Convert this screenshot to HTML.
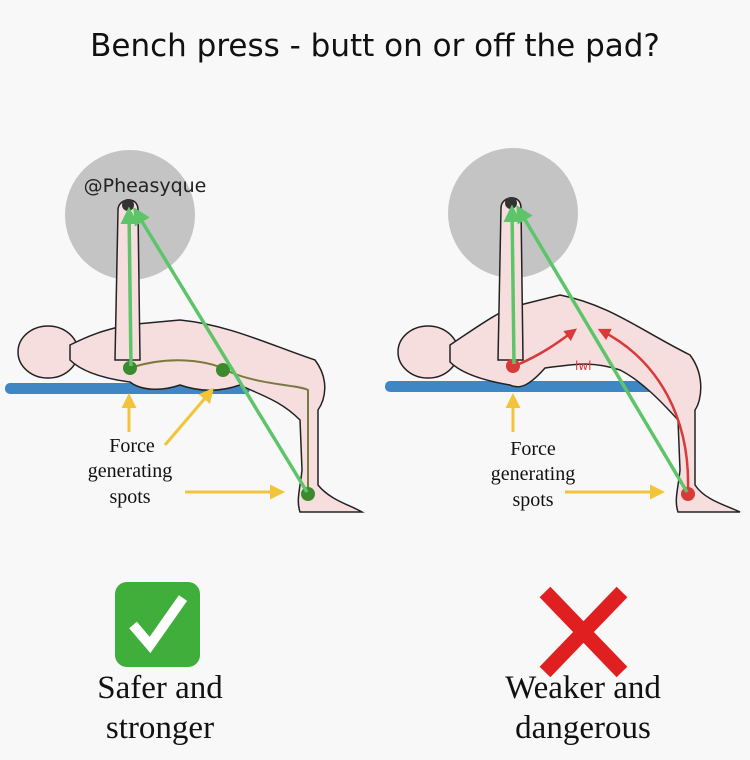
<!DOCTYPE html>
<html><head><meta charset="utf-8"><style>
html,body{margin:0;padding:0;background:#f8f8f8;}
svg{display:block}
</style></head><body>
<svg width="750" height="760" viewBox="0 0 750 760" xmlns="http://www.w3.org/2000/svg">
<defs>
<marker id="ga" markerWidth="5" markerHeight="5" refX="4" refY="2.5" orient="auto" markerUnits="strokeWidth"><path d="M0,0 L5,2.5 L0,5 z" fill="#5ec46a"/></marker>
<marker id="ya" markerWidth="5" markerHeight="5" refX="4" refY="2.5" orient="auto" markerUnits="strokeWidth"><path d="M0,0 L5,2.5 L0,5 z" fill="#f2c43a"/></marker>
<marker id="ra" markerWidth="5" markerHeight="5" refX="4" refY="2.5" orient="auto" markerUnits="strokeWidth"><path d="M0,0 L5,2.5 L0,5 z" fill="#d83a3a"/></marker>
</defs>
<rect width="750" height="760" fill="#f8f8f8"/>
<text x="375" y="56" text-anchor="middle" font-family="'DejaVu Sans','Liberation Sans',sans-serif" font-size="31" fill="#111">Bench press - butt on or off the pad?</text>

<!-- LEFT -->
<circle cx="130" cy="215" r="65" fill="#c4c4c4"/>
<text x="145" y="192" text-anchor="middle" font-family="'DejaVu Sans',sans-serif" font-size="19" fill="#222">@Pheasyque</text>
<rect x="5" y="383" width="245" height="11" rx="5" fill="#3f86c4"/>
<g fill="#f6dede" stroke="#222" stroke-width="1.5">
<ellipse cx="48" cy="352" rx="30" ry="26"/>
<path d="M70,345 C100,330 110,330 125,325 L180,320 C230,325 270,345 315,360 C330,380 325,400 318,410 L318,485 C330,500 350,505 362,512 L300,512 C296,500 300,490 302,470 L300,420 C280,400 260,395 240,385 C220,392 200,392 180,385 C160,392 140,390 130,382 C100,378 80,370 70,360 Z"/>
<path d="M115,360 L118,210 C118,198 138,195 138,210 L140,360 Z"/>
</g>
<circle cx="128" cy="205" r="6" fill="#333"/>
<path d="M130,368 C170,355 210,360 230,372 C260,385 300,385 308,390 L308,490" fill="none" stroke="#7a7a40" stroke-width="2"/>
<circle cx="130" cy="368" r="7" fill="#3c8a2e"/>
<circle cx="223" cy="370" r="7" fill="#3c8a2e"/>
<circle cx="308" cy="494" r="7" fill="#3c8a2e"/>
<line x1="131" y1="366" x2="129" y2="210" stroke="#5ec46a" stroke-width="3.5" marker-end="url(#ga)"/>
<line x1="307" y1="492" x2="135" y2="210" stroke="#5ec46a" stroke-width="3.5" marker-end="url(#ga)"/>
<g stroke="#f2c43a" stroke-width="3" fill="none">
<line x1="129" y1="432" x2="129" y2="396" marker-end="url(#ya)"/>
<line x1="165" y1="445" x2="212" y2="390" marker-end="url(#ya)"/>
<line x1="185" y1="492" x2="282" y2="492" marker-end="url(#ya)"/>
</g>
<g font-family="'Liberation Serif',serif" font-size="20" fill="#111" text-anchor="middle">
<text x="132" y="452">Force</text><text x="130" y="477">generating</text><text x="130" y="503">spots</text>
</g>
<rect x="115" y="582" width="85" height="85" rx="12" fill="#3fae3a"/>
<path d="M133,625 L150,645 L183,598" fill="none" stroke="#fff" stroke-width="10"/>
<g font-family="'Liberation Serif',serif" font-size="33" fill="#111" text-anchor="middle">
<text x="160" y="698">Safer and</text><text x="160" y="738">stronger</text>
</g>

<!-- RIGHT -->
<circle cx="513" cy="213" r="65" fill="#c4c4c4"/>
<rect x="385" y="381" width="275" height="11" rx="5" fill="#3f86c4"/>
<g fill="#f6dede" stroke="#222" stroke-width="1.5">
<ellipse cx="428" cy="352" rx="30" ry="26"/>
<path d="M450,345 C480,325 500,310 520,305 L560,295 C610,305 640,330 690,355 C705,375 702,400 695,410 L695,485 C705,500 725,505 740,512 L678,512 C674,500 678,490 680,470 L678,420 C660,400 640,380 620,370 C590,360 570,365 545,368 C530,385 520,390 510,385 C480,380 460,372 450,362 Z"/>
<path d="M498,360 L501,208 C501,196 521,193 521,208 L523,360 Z"/>
</g>
<circle cx="511" cy="203" r="6" fill="#333"/>
<path d="M517,365 C540,355 555,345 575,330" fill="none" stroke="#d83a3a" stroke-width="2.5" marker-end="url(#ra)"/>
<path d="M688,490 C690,420 660,360 600,330" fill="none" stroke="#d83a3a" stroke-width="2.5" marker-end="url(#ra)"/>
<text x="575" y="370" font-family="'DejaVu Sans',sans-serif" font-size="12" fill="#d83a3a">lwl</text>
<circle cx="513" cy="366" r="7" fill="#d83a3a"/>
<circle cx="688" cy="494" r="7" fill="#d83a3a"/>
<line x1="514" y1="364" x2="512" y2="208" stroke="#5ec46a" stroke-width="3.5" marker-end="url(#ga)"/>
<line x1="687" y1="492" x2="518" y2="208" stroke="#5ec46a" stroke-width="3.5" marker-end="url(#ga)"/>
<g stroke="#f2c43a" stroke-width="3" fill="none">
<line x1="513" y1="432" x2="513" y2="396" marker-end="url(#ya)"/>
<line x1="565" y1="492" x2="662" y2="492" marker-end="url(#ya)"/>
</g>
<g font-family="'Liberation Serif',serif" font-size="20" fill="#111" text-anchor="middle">
<text x="533" y="455">Force</text><text x="533" y="480">generating</text><text x="533" y="506">spots</text>
</g>
<g stroke="#e02020" stroke-width="15" stroke-linecap="butt">
<line x1="545" y1="592" x2="622" y2="672"/><line x1="622" y1="592" x2="545" y2="672"/>
</g>
<g font-family="'Liberation Serif',serif" font-size="33" fill="#111" text-anchor="middle">
<text x="583" y="698">Weaker and</text><text x="583" y="738">dangerous</text>
</g>
</svg>
</body></html>
